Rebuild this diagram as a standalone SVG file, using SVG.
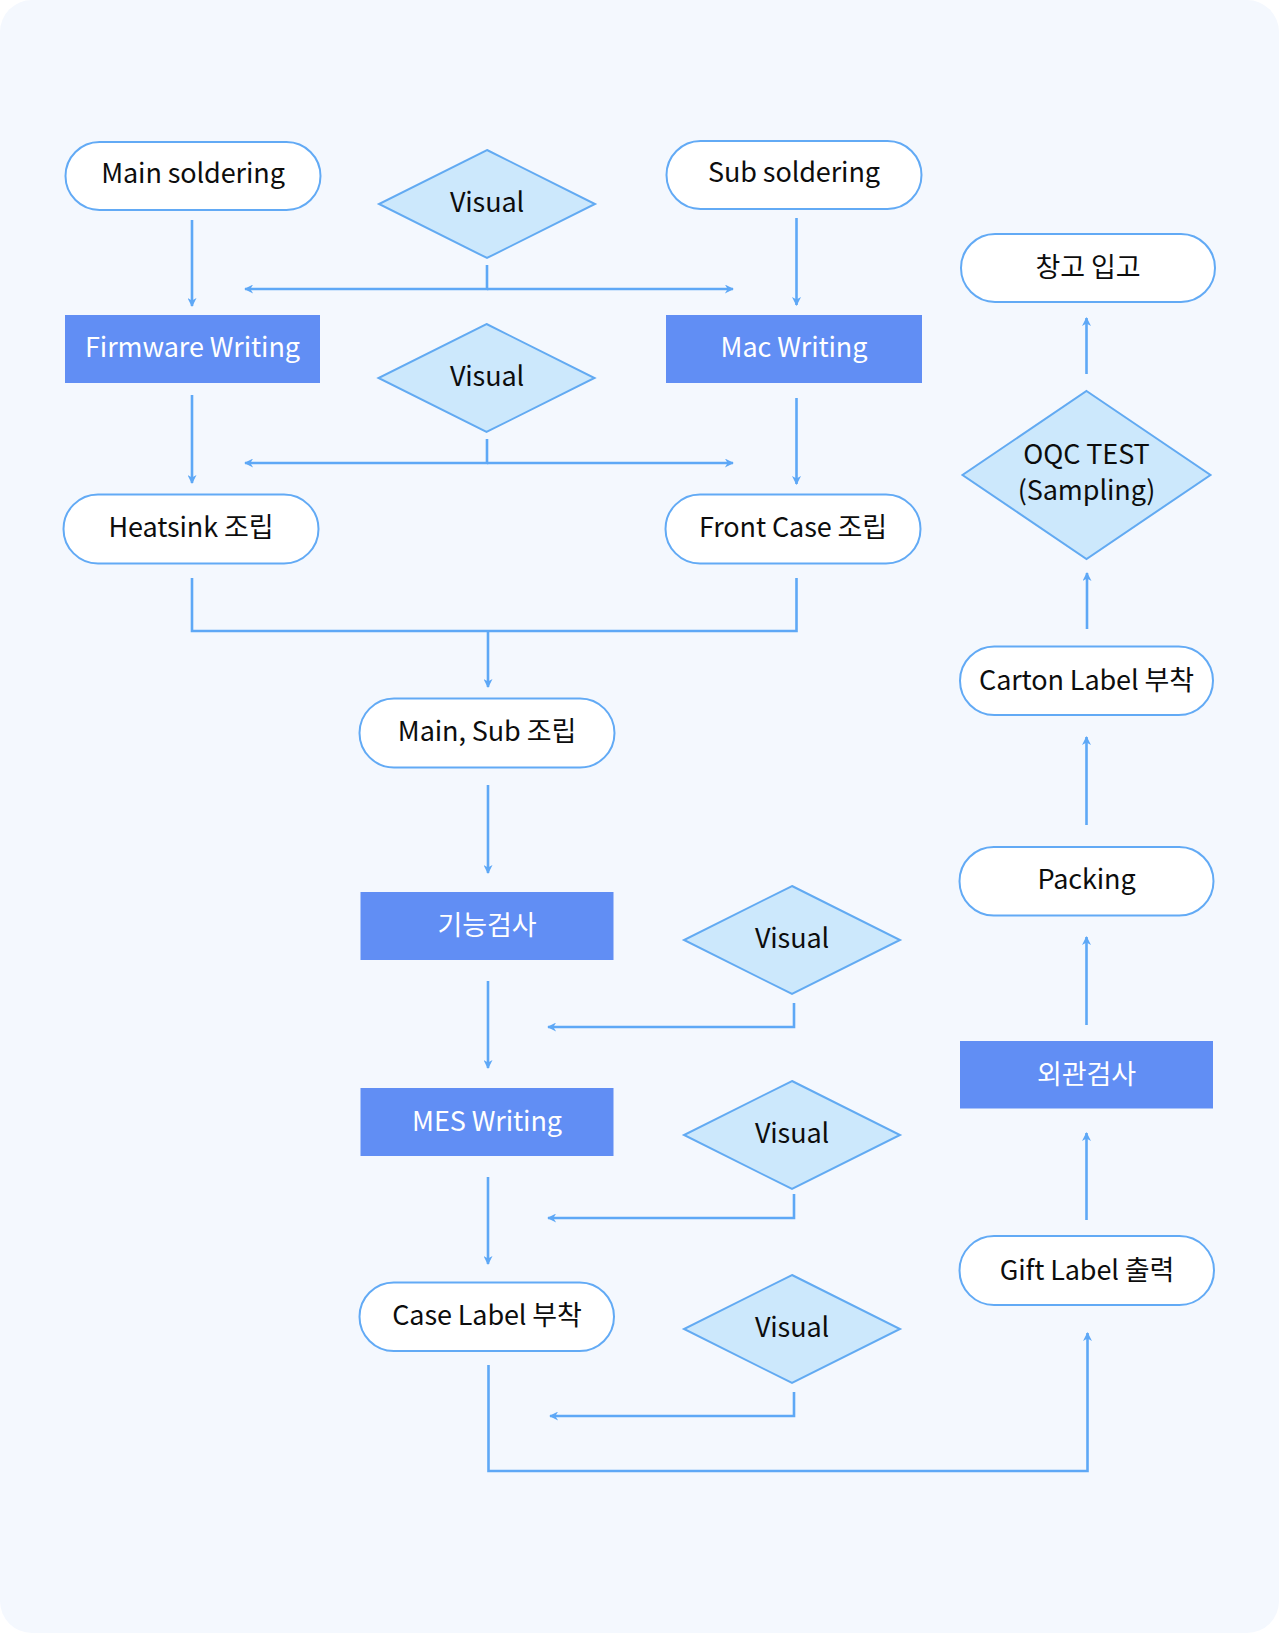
<svg xmlns="http://www.w3.org/2000/svg" width="1279" height="1633" viewBox="0 0 1279 1633">
<defs>
<marker id="ah" viewBox="0 0 10 10" markerWidth="10" markerHeight="9" refX="9" refY="5" orient="auto" markerUnits="userSpaceOnUse">
<path d="M0,0 L10,5 L0,10 L3,5 z" fill="#5ea8f6"/>
</marker>
<style>
.pill{fill:#ffffff;stroke:#62aaf5;stroke-width:2}
.box{fill:#618ef4}
.dia{fill:#cce8fc;stroke:#62aaf2;stroke-width:2}
.t{font-family:"Noto Sans CJK KR","Noto Sans",sans-serif;font-size:27px;font-weight:400;text-anchor:middle;fill:#0d0d0d;letter-spacing:-0.1px}
.tw{fill:#ffffff}
.ln{fill:none;stroke:#5ea8f6;stroke-width:2.6}
.ar{marker-end:url(#ah)}
</style>
</defs>
<rect x="0" y="0" width="1279" height="1633" fill="#ffffff"/>
<rect x="0" y="0" width="1279" height="1633" rx="32" fill="#f4f8fe"/>

<g id="connectors">
<path class="ln ar" d="M192,220 V306"/>
<path class="ln ar" d="M487,265 V289 H245"/>
<path class="ln ar" d="M487,289 H733"/>
<path class="ln ar" d="M796.5,218 V305"/>
<path class="ln ar" d="M192,395 V483"/>
<path class="ln ar" d="M487,439 V463 H245"/>
<path class="ln ar" d="M487,463 H733"/>
<path class="ln ar" d="M796.5,398 V484"/>
<path class="ln" d="M192,578 V631 H796.5 V578"/>
<path class="ln ar" d="M488,631 V687"/>
<path class="ln ar" d="M488,785 V873"/>
<path class="ln ar" d="M488,981 V1068"/>
<path class="ln ar" d="M794,1003 V1027 H548"/>
<path class="ln ar" d="M488,1177 V1264"/>
<path class="ln ar" d="M794,1194 V1218 H548"/>
<path class="ln ar" d="M794,1392 V1416 H550"/>
<path class="ln ar" d="M488.5,1365 V1471 H1087.5 V1333"/>
<path class="ln ar" d="M1086.5,1220 V1133"/>
<path class="ln ar" d="M1086.5,1025 V937"/>
<path class="ln ar" d="M1086.5,825 V737"/>
<path class="ln ar" d="M1087,629 V573"/>
<path class="ln ar" d="M1086.5,374 V318"/>
</g>

<g id="main-soldering"><rect class="pill" x="65.5" y="142" width="255" height="68" rx="34"/><text class="t" x="193" y="183">Main soldering</text></g>
<g id="sub-soldering"><rect class="pill" x="666.5" y="141" width="255" height="68" rx="34"/><text class="t" x="794" y="182">Sub soldering</text></g>
<g id="visual-1"><polygon class="dia" points="487,150 595,204 487,258 379,204"/><text class="t" x="487" y="212">Visual</text></g>
<g id="firmware-writing"><rect class="box" x="65" y="315" width="255" height="68"/><text class="t tw" x="192.5" y="357">Firmware Writing</text></g>
<g id="mac-writing"><rect class="box" x="666" y="315" width="256" height="68"/><text class="t tw" x="794" y="357">Mac Writing</text></g>
<g id="visual-2"><polygon class="dia" points="486.5,324 594.5,378 486.5,432 378.5,378"/><text class="t" x="487" y="386">Visual</text></g>
<g id="heatsink"><rect class="pill" x="63.5" y="494.5" width="255" height="69" rx="34.5"/><text class="t" x="191" y="537">Heatsink 조립</text></g>
<g id="front-case"><rect class="pill" x="665.5" y="494.5" width="255" height="69" rx="34.5"/><text class="t" x="793" y="537">Front Case 조립</text></g>
<g id="main-sub"><rect class="pill" x="359.5" y="698.5" width="255" height="69" rx="34.5"/><text class="t" x="487" y="741">Main, Sub 조립</text></g>
<g id="function-test"><rect class="box" x="360.5" y="892" width="253" height="68"/><text class="t tw" x="487" y="935">기능검사</text></g>
<g id="visual-3"><polygon class="dia" points="792,886 900,940 792,994 684,940"/><text class="t" x="792" y="948">Visual</text></g>
<g id="mes-writing"><rect class="box" x="360.5" y="1088" width="253" height="68"/><text class="t tw" x="487" y="1131">MES Writing</text></g>
<g id="visual-4"><polygon class="dia" points="792,1081 900,1135 792,1189 684,1135"/><text class="t" x="792" y="1143">Visual</text></g>
<g id="case-label"><rect class="pill" x="359.5" y="1282.5" width="254.5" height="68.5" rx="34.25"/><text class="t" x="487" y="1325">Case Label 부착</text></g>
<g id="visual-5"><polygon class="dia" points="792,1275 900,1329 792,1383 684,1329"/><text class="t" x="792" y="1337">Visual</text></g>
<g id="gift-label"><rect class="pill" x="959.5" y="1236" width="254.5" height="69" rx="34.5"/><text class="t" x="1087" y="1280">Gift Label 출력</text></g>
<g id="appearance-test"><rect class="box" x="960" y="1041" width="253" height="67.5"/><text class="t tw" x="1086.5" y="1084">외관검사</text></g>
<g id="packing"><rect class="pill" x="959.5" y="847" width="254" height="68.5" rx="34.25"/><text class="t" x="1086.5" y="889">Packing</text></g>
<g id="carton-label"><rect class="pill" x="960" y="646.5" width="253" height="68.5" rx="34.25"/><text class="t" x="1086.5" y="690">Carton Label 부착</text></g>
<g id="oqc-test"><polygon class="dia" points="1086.5,391 1210.5,475 1086.5,559 962.5,475"/><text class="t" x="1086.5" y="464">OQC TEST</text><text class="t" x="1086.5" y="500">(Sampling)</text></g>
<g id="warehouse"><rect class="pill" x="961" y="234" width="254" height="68" rx="34"/><text class="t" x="1088" y="277">창고 입고</text></g>
</svg>
